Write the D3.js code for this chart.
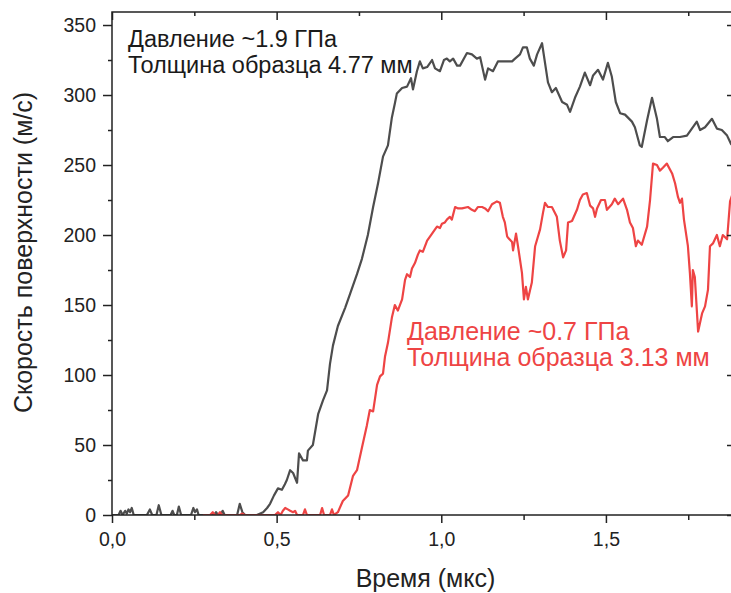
<!DOCTYPE html>
<html>
<head>
<meta charset="utf-8">
<script src="https://cdn.jsdelivr.net/npm/d3@7"></script>
<style>
  html, body { margin: 0; padding: 0; background: #fff; }
  svg { display: block; }
  text { font-family: "Liberation Sans", Arial, sans-serif; }
</style>
</head>
<body>
<svg id="chart" width="731" height="593"></svg>
<script>
// Surface velocity traces, time in µs, velocity in m/s
const grayTime = [0.000,0.020,0.026,0.032,0.040,0.045,0.050,0.055,0.060,0.066,0.106,0.115,0.122,0.135,0.142,0.150,0.178,0.184,0.189,0.197,0.203,0.210,0.240,0.247,0.252,0.258,0.263,0.310,0.316,0.322,0.330,0.336,0.342,0.380,0.388,0.396,0.404,0.440,0.459,0.471,0.480,0.492,0.504,0.516,0.525,0.531,0.541,0.550,0.562,0.568,0.580,0.592,0.595,0.610,0.626,0.641,0.653,0.662,0.671,0.686,0.708,0.723,0.744,0.759,0.777,0.793,0.808,0.823,0.838,0.850,0.859,0.865,0.881,0.896,0.908,0.914,0.926,0.935,0.944,0.957,0.972,0.981,0.996,1.008,1.017,1.026,1.036,1.048,1.057,1.078,1.093,1.108,1.118,1.133,1.142,1.157,1.172,1.193,1.215,1.224,1.239,1.248,1.260,1.269,1.281,1.291,1.306,1.324,1.336,1.348,1.367,1.382,1.391,1.406,1.421,1.436,1.452,1.461,1.476,1.491,1.506,1.518,1.530,1.543,1.558,1.579,1.588,1.603,1.609,1.625,1.640,1.655,1.664,1.679,1.688,1.704,1.725,1.746,1.761,1.776,1.786,1.801,1.822,1.837,1.852,1.868,1.880,1.892];
const grayVel  = [0,0,3,0,3,1,4,2,5,0,0,4,0,0,7,0,0,3,0,0,6,0,0,5,2,4,0,0,2,0,0,3,0,0,8,2,0,0,2,5,8,14,19,18,22,25,32,30,23,44,39,39,46,50,72,82,89,108,121,135,148,158,172,183,200,220,237,256,264,284,294,301,305,306,312,304,317,324,319,320,325,319,317,325,326,324,326,321,321,330,329,326,327,311,319,317,324,324,324,326,329,334,334,326,321,329,337,309,302,305,295,293,288,298,306,316,307,314,318,311,323,313,295,287,286,281,277,264,263,282,298,283,270,270,267,270,270,271,276,281,275,277,283,276,275,271,265,262];

const redTime = [0.276,0.298,0.306,0.313,0.322,0.328,0.334,0.389,0.395,0.404,0.480,0.495,0.504,0.512,0.519,0.526,0.534,0.541,0.550,0.556,0.562,0.571,0.580,0.586,0.592,0.601,0.623,0.632,0.638,0.644,0.656,0.662,0.668,0.674,0.686,0.701,0.717,0.732,0.744,0.759,0.774,0.783,0.793,0.805,0.814,0.823,0.829,0.838,0.850,0.859,0.868,0.881,0.890,0.896,0.905,0.911,0.920,0.929,0.935,0.944,0.957,0.972,0.981,0.987,0.996,1.002,1.011,1.017,1.026,1.032,1.042,1.051,1.063,1.081,1.093,1.102,1.111,1.124,1.133,1.142,1.154,1.169,1.178,1.187,1.193,1.200,1.203,1.215,1.218,1.227,1.233,1.245,1.251,1.257,1.263,1.275,1.285,1.300,1.309,1.315,1.324,1.336,1.351,1.360,1.370,1.379,1.385,1.397,1.412,1.421,1.430,1.442,1.452,1.461,1.467,1.473,1.485,1.497,1.503,1.518,1.527,1.537,1.552,1.564,1.573,1.582,1.591,1.597,1.609,1.625,1.634,1.643,1.655,1.664,1.673,1.685,1.701,1.710,1.719,1.725,1.731,1.737,1.749,1.755,1.761,1.764,1.770,1.780,1.792,1.801,1.810,1.816,1.825,1.837,1.846,1.855,1.868,1.877,1.892];
const redVel  = [0,0,2,0,0,2,0,0,1,0,0,0,2,0,3,5,4,3,2,3,0,0,0,4,0,0,0,0,5,0,0,0,4,0,2,10,14,28,32,48,64,75,74,93,99,101,113,123,141,150,146,154,168,172,170,176,180,186,189,188,196,201,204,206,205,208,209,211,213,211,220,219,219,220,218,217,220,220,219,217,222,224,223,213,209,199,198,195,189,201,192,173,154,163,154,166,192,204,216,223,220,220,213,196,184,189,209,210,218,225,229,230,221,219,213,219,225,225,218,222,226,222,226,218,209,205,192,196,193,206,225,251,250,246,248,251,244,237,227,223,226,211,192,173,149,175,170,131,144,149,161,192,194,200,192,200,197,224,235];

// Axis settings
const xDomain = [0, 1.892];
const yDomain = [0, 359.3];
const xMajorTicks = [0, 0.5, 1.0, 1.5];
const xMinorTicks = [0.25, 0.75, 1.25, 1.75];
const yMajorTicks = [0, 50, 100, 150, 200, 250, 300, 350];
const yMinorTicks = [25, 75, 125, 175, 225, 275, 325];

const xTitle = "Время (мкс)";
const yTitle = "Скорость поверхности (м/с)";
const grayNote = ["Давление ~1.9 ГПа", "Толщина образца 4.77 мм"];
const redNote = ["Давление ~0.7 ГПа", "Толщина образца 3.13 мм"];

const grayColor = "#4d4d4d";
const redColor = "#ee4444";
const axisColor = "#222";

const m = { left: 112, top: 12, right: 735, bottom: 515 };
const svg = d3.select("#chart");

const x = d3.scaleLinear().domain(xDomain).range([m.left, m.right]);
const y = d3.scaleLinear().domain(yDomain).range([m.bottom, m.top]);

const fmt = d => d3.format(".1f")(d).replace(".", ",");

// clip the traces to the frame
svg.append("defs").append("clipPath").attr("id", "plotClip")
  .append("rect").attr("x", m.left).attr("y", m.top)
  .attr("width", m.right - m.left).attr("height", m.bottom - m.top);

const line = d3.line().x(d => x(d[0])).y(d => y(d[1]));
const gray = d3.zip(grayTime, grayVel);
const red = d3.zip(redTime, redVel);

const traces = svg.append("g").attr("clip-path", "url(#plotClip)");
traces.append("path").datum(gray).attr("d", line)
  .attr("fill", "none").attr("stroke", grayColor).attr("stroke-width", 2.2).attr("stroke-linejoin", "round");
traces.append("path").datum(red).attr("d", line)
  .attr("fill", "none").attr("stroke", redColor).attr("stroke-width", 2.2).attr("stroke-linejoin", "round");

function styleAxis(g) {
  g.selectAll(".domain").remove();
  g.selectAll("line").attr("stroke", axisColor).attr("stroke-width", 1.5);
  g.selectAll("text").attr("fill", "#222").style("font-size", "19.5px")
    .style("font-family", "'Liberation Sans', Arial, sans-serif");
}

// bottom axis
svg.append("g").attr("transform", `translate(0,${m.bottom})`)
  .call(d3.axisBottom(x).tickValues(xMajorTicks).tickSize(8).tickPadding(9).tickFormat(fmt))
  .call(styleAxis);
svg.append("g").attr("transform", `translate(0,${m.bottom})`)
  .call(d3.axisBottom(x).tickValues(xMinorTicks).tickSize(5).tickFormat(""))
  .call(styleAxis);
// top axis (ticks pointing inward)
svg.append("g").attr("transform", `translate(0,${m.top})`)
  .call(d3.axisTop(x).tickValues(xMajorTicks).tickSize(-8).tickFormat(""))
  .call(styleAxis);
svg.append("g").attr("transform", `translate(0,${m.top})`)
  .call(d3.axisTop(x).tickValues(xMinorTicks).tickSize(-4).tickFormat(""))
  .call(styleAxis);
// left axis
svg.append("g").attr("transform", `translate(${m.left},0)`)
  .call(d3.axisLeft(y).tickValues(yMajorTicks).tickSize(9).tickPadding(7).tickFormat(d3.format("d")))
  .call(styleAxis);
svg.append("g").attr("transform", `translate(${m.left},0)`)
  .call(d3.axisLeft(y).tickValues(yMinorTicks).tickSize(4).tickFormat(""))
  .call(styleAxis);
// right axis (ticks pointing inward)
svg.append("g").attr("transform", `translate(${m.right},0)`)
  .call(d3.axisRight(y).tickValues(yMajorTicks).tickSize(-8).tickFormat(""))
  .call(styleAxis);
svg.append("g").attr("transform", `translate(${m.right},0)`)
  .call(d3.axisRight(y).tickValues(yMinorTicks).tickSize(-4).tickFormat(""))
  .call(styleAxis);

// frame
svg.append("rect").attr("x", m.left).attr("y", m.top)
  .attr("width", m.right - m.left).attr("height", m.bottom - m.top)
  .attr("fill", "none").attr("stroke", axisColor).attr("stroke-width", 1.5);

// axis titles
svg.append("text").attr("x", 425.5).attr("y", 587)
  .attr("text-anchor", "middle").attr("fill", "#222").style("font-size", "25px").text(xTitle);
svg.append("text").attr("transform", "translate(32,252.5) rotate(-90)")
  .attr("text-anchor", "middle").attr("fill", "#222").style("font-size", "25px").text(yTitle);

// annotations
const noteBlack = svg.append("text").attr("fill", "#1a1a1a").style("font-size", "23.5px");
grayNote.forEach((s, i) => noteBlack.append("tspan").attr("x", 128).attr("y", 47 + i * 25.5).text(s));
const noteRed = svg.append("text").attr("fill", redColor).style("font-size", "25px");
redNote.forEach((s, i) => noteRed.append("tspan").attr("x", 407).attr("y", 340 + i * 26).text(s));
</script>
</body>
</html>
